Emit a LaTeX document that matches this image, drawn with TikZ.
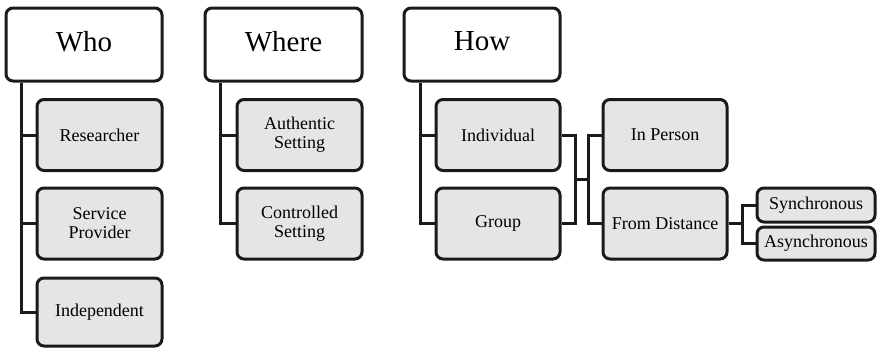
\documentclass[tikz,border=0pt]{standalone}
\usepackage{fontspec}
\setmainfont{Liberation Serif}
\newfontfamily\serfont{Liberation Serif}
\definecolor{boxgray}{HTML}{E5E5E5}
\definecolor{linecol}{HTML}{1A1A1A}
\begin{document}
\begin{tikzpicture}[x=1pt,y=-1pt,
  base/.style={draw=linecol, line width=3pt, rounded corners=7pt, inner sep=0pt, align=center},
  header/.style={base, fill=white, minimum width=156pt, minimum height=73pt, font=\serfont\fontsize{29}{32}\selectfont},
  item/.style={base, fill=boxgray, minimum width=125pt, minimum height=71pt, font=\serfont\fontsize{18}{19}\selectfont},
  small/.style={base, fill=boxgray, minimum width=118pt, minimum height=33pt, font=\serfont\fontsize{18}{19}\selectfont},
  conn/.style={draw=linecol, line width=3pt}]
\useasboundingbox (0,0) rectangle (880,348);
% Who
\node[header] (who) at (84,44.5) {\raisebox{6pt}{Who}};
\node[item] (res) at (99.5,135) {Researcher};
\node[item] (sp) at (99.5,223.5) {Service\\Provider};
\node[item, minimum height=68pt] (ind) at (99.5,312) {Independent};
\draw[conn] ([xshift=16.5pt]who.south west) |- (res.west);
\draw[conn] ([xshift=16.5pt]who.south west) |- (sp.west);
\draw[conn] ([xshift=16.5pt]who.south west) |- (ind.west);
% Where
\node[header, minimum width=157pt] (where) at (283.5,44.5) {\raisebox{6pt}{Where}};
\node[item] (auth) at (299.5,135) {Authentic\\Setting};
\node[item] (ctrl) at (299.5,223.5) {Controlled\\Setting};
\draw[conn] ([xshift=17pt]where.south west) |- (auth.west);
\draw[conn] ([xshift=17pt]where.south west) |- (ctrl.west);
% How
\node[header] (how) at (482,44.5) {\raisebox{6pt}{How}};
\node[item, minimum width=124pt] (indiv) at (498,135) {Individual};
\node[item, minimum width=124pt] (group) at (498,223.5) {Group};
\draw[conn] ([xshift=18pt]how.south west) |- (indiv.west);
\draw[conn] ([xshift=18pt]how.south west) |- (group.west);
\node[item, minimum width=124pt] (inper) at (665,135) {In Person};
\node[item, minimum width=124pt] (fromd) at (665,223.5) {From Distance};
\coordinate (m1) at (575,179);
\coordinate (m2) at (588,179);
\draw[conn] (indiv.east) -| (m1) |- (group.east);
\draw[conn] (m1) -- (m2);
\draw[conn] (inper.west) -| (m2) |- (fromd.west);
\node[small, minimum height=34pt] (sync) at (816,205) {Synchronous};
\node[small] (async) at (816,243.5) {Asynchronous};
\coordinate (m3) at (742,223.5);
\draw[conn] (fromd.east) -- (m3);
\draw[conn] (sync.west) -| (m3) |- (async.west);
\end{tikzpicture}
\end{document}
